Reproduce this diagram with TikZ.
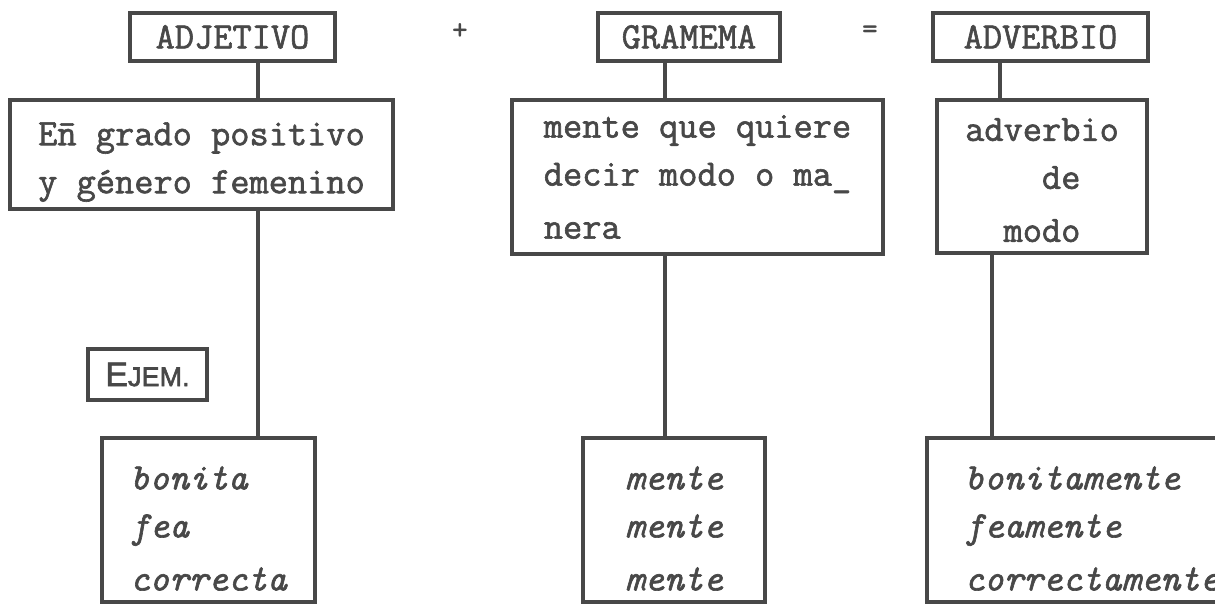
\documentclass[tikz,border=0pt]{standalone}
\usepackage{fontspec}
\newfontfamily\sansfam{Liberation Sans}
\definecolor{ink}{HTML}{484848}
\newcommand\tymono{\ttfamily\fontsize{37.3}{48}\selectfont}
\newcommand\tyital{\ttfamily\itshape\fontsize{37.3}{48}\selectfont}
\newcommand\heavy[1]{\special{pdf:code q 2 Tr 0.6 w}#1\special{pdf:code Q}}
\begin{document}
\begin{tikzpicture}[x=1pt,y=-1pt,
  box/.style={draw=ink, line width=3.5pt, outer sep=0pt, anchor=north west,
    inner xsep=0pt, inner ysep=0pt, text=ink, align=left, font=\tymono},
  ibox/.style={box, font=\tyital},
  link/.style={draw=ink, line width=3.5pt},
  sym/.style={text=ink, font=\ttfamily\bfseries\fontsize{30}{30}\selectfont, inner sep=0pt}]
\useasboundingbox (0,0) rectangle (1215,612);
\fill[white] (0,0) rectangle (1215,612);
\clip (0,0) rectangle (1215,612);
% coordinates for vertical connectors
\coordinate (cA) at (258,0);
\coordinate (cB) at (665,0);
\coordinate (cC) at (1000,0);
\coordinate (cD) at (992,0);
% top row
\node[box, align=center, minimum width=205pt, minimum height=48pt] (adj) at (130,13) {\heavy{ADJETIVO}};
\node[sym] (plus) at (460,32) {+};
\node[box, align=center, minimum width=182pt, minimum height=48pt] (gram) at (598,13) {\heavy{GRAMEMA}};
\node[sym] (eq) at (870,32) {=};
\node[box, align=center, minimum width=215pt, minimum height=48pt] (adv) at (933,13) {\heavy{ADVERBIO}};
% second row
\node[box, minimum width=383pt, minimum height=109pt] (pos) at (10,100)
  {\rule{0pt}{38pt}\heavy{E\={n} grado positivo}\\\heavy{y género femenino}};
\node[box, minimum width=371pt, minimum height=154pt] (ment) at (512,100)
  {\heavy{mente que quiere}\\\heavy{decir modo o ma\_}\\[5pt]\heavy{nera}};
\node[box, minimum width=210pt, minimum height=153pt] (modo) at (937,100)
  {\rule{0pt}{30pt}\heavy{adverbio}\\\phantom{xxxx}\heavy{de}\\[5pt]\phantom{xx}\heavy{modo}};
% example label
\node[box, font=\sansfam, align=center, minimum width=119pt, minimum height=51pt] (ejem) at (88,349)
  {\heavy{\fontsize{34}{34}\selectfont E\fontsize{27}{27}\selectfont JEM.}};
% bottom row
\node[ibox, minimum width=213pt, minimum height=164pt] (bon) at (102,438)
  {\rule{0pt}{40pt}\heavy{bonita}\\\heavy{fea}\\[5pt]\heavy{correcta}};
\node[ibox, minimum width=182pt, minimum height=164pt] (mm) at (583,438)
  {\rule{0pt}{40pt}\heavy{mente}\\\heavy{mente}\\[5pt]\heavy{mente}};
\node[ibox, minimum width=330pt, minimum height=164pt] (bm) at (927,438)
  {\rule{0pt}{40pt}\heavy{bonitamente}\\\heavy{feamente}\\[5pt]\heavy{correctamente}};
% connectors
\draw[link] (adj.south -| cA) -- (pos.north -| cA);
\draw[link] (pos.south -| cA) -- (bon.north -| cA);
\draw[link] (gram.south -| cB) -- (ment.north -| cB);
\draw[link] (ment.south -| cB) -- (mm.north -| cB);
\draw[link] (adv.south -| cC) -- (modo.north -| cC);
\draw[link] (modo.south -| cD) -- (bm.north -| cD);
\end{tikzpicture}
\end{document}
